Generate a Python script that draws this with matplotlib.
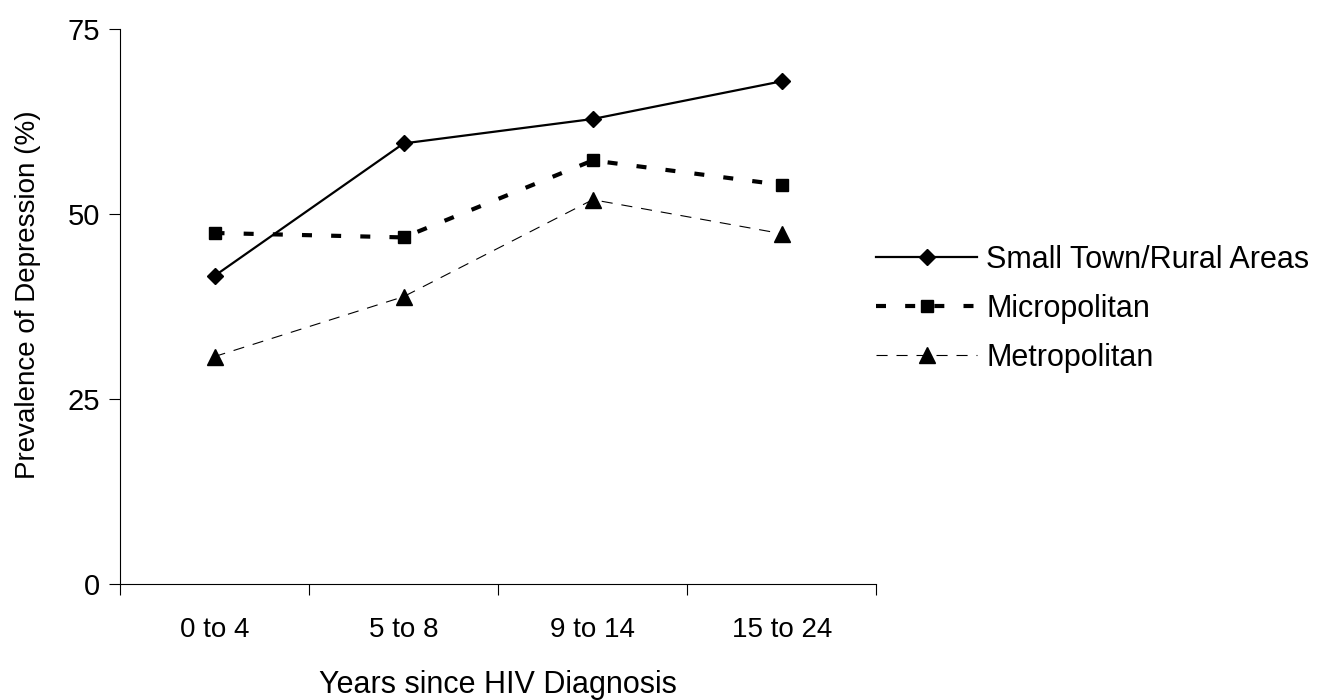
"""
 Prevalence of depression by years since HIV diagnosis, three area types.
"""

import numpy as np
import matplotlib
matplotlib.use('Agg')
import matplotlib.pyplot as plt

# Data
categories = ['0 to 4', '5 to 8', '9 to 14', '15 to 24']
small_town = [41.6, 59.5, 62.8, 67.9]
micropolitan = [47.4, 46.8, 57.2, 53.9]
metropolitan = [30.7, 38.8, 51.9, 47.3]
y_ticks = [0, 25, 50, 75]

plt.rcParams['font.family'] = ['Liberation Sans', 'DejaVu Sans']

fig = plt.figure(figsize = (13.18, 7), dpi = 100)
ax = fig.add_axes([0.091, 0.166, 0.574, 0.793])

x = np.arange(len(categories))

ax.plot(x, small_town, '-', color = 'black', lw = 1.6, marker = 'D', markersize = 8,
        label = 'Small Town/Rural Areas')
ax.plot(x, micropolitan, color = 'black', lw = 3.0, dashes = (2.4, 4.6), marker = 's', markersize = 9,
        label = 'Micropolitan')
ax.plot(x, metropolitan, color = 'black', lw = 0.8, dashes = (10, 8), marker = '^', markersize = 11,
        label = 'Metropolitan')

# Axes styling
ax.set_xlim(-0.5, len(categories) - 0.5)
ax.set_ylim(0, 75)
ax.set_yticks(y_ticks)
ax.set_xticks(x)
ax.set_xticklabels(categories, fontsize = 20)
ax.set_xticks(np.arange(-0.5, len(categories)), minor = True)
ax.tick_params(axis = 'x', which = 'major', length = 0, pad = 24)
ax.tick_params(axis = 'x', which = 'minor', length = 8, width = 0.8, direction = 'out')
ax.tick_params(axis = 'y', length = 8, width = 0.8, direction = 'out', labelsize = 21, pad = 6)

for side in ['top', 'right']:
    ax.spines[side].set_visible(False)
for side in ['left', 'bottom']:
    ax.spines[side].set_linewidth(0.8)

ax.set_xlabel('Years since HIV Diagnosis', fontsize = 22, labelpad = 19)
ax.set_ylabel('Prevalence of Depression (%)', fontsize = 20)
ax.yaxis.set_label_coords(-0.105, 0.52)

leg = ax.legend(loc = 'center left', bbox_to_anchor = (0.665, 0.559), bbox_transform = fig.transFigure,
                frameon = False, fontsize = 22, handlelength = 3.3, handletextpad = 0.3,
                labelspacing = 0.62, borderaxespad = 0, borderpad = 0)

fig.savefig('out.png', dpi = 100)
